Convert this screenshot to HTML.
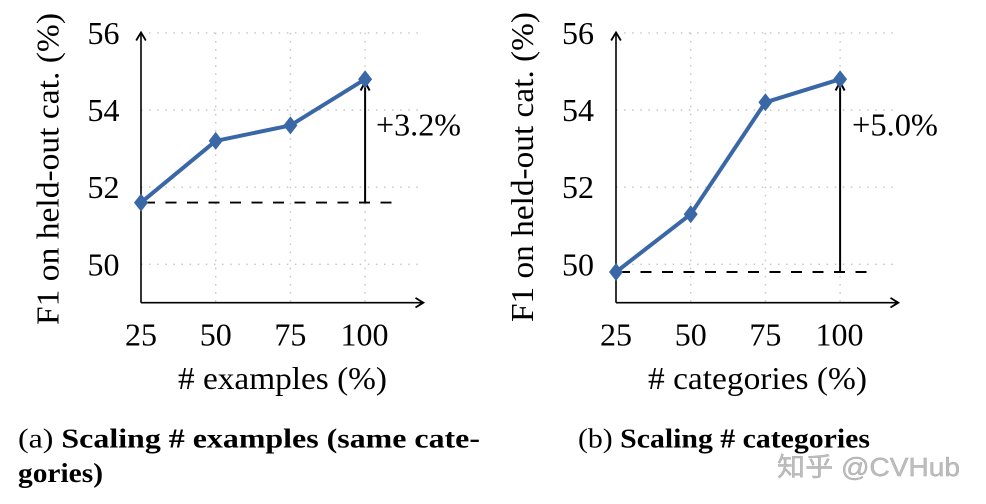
<!DOCTYPE html>
<html><head><meta charset="utf-8"><style>
html,body{margin:0;padding:0;background:#fff;}
svg{display:block;}
.serif{font-family:"Liberation Serif",serif;}
.wm{font-family:"Liberation Sans","Noto Sans CJK SC",sans-serif;}
</style></head><body>
<svg width="986" height="504" viewBox="0 0 986 504" xmlns="http://www.w3.org/2000/svg">
<g class="serif" fill="#000">
<!-- LEFT CHART -->
<g>
  <g stroke="#c4c4c4" stroke-width="1.4" stroke-dasharray="1.5 6.6" fill="none">
    <line x1="141" y1="32.9" x2="421" y2="32.9"/>
    <line x1="141" y1="110" x2="421" y2="110"/>
    <line x1="141" y1="187.2" x2="421" y2="187.2"/>
    <line x1="141" y1="264.3" x2="421" y2="264.3"/>
    <line x1="215.7" y1="32.9" x2="215.7" y2="302.7"/>
    <line x1="290.4" y1="32.9" x2="290.4" y2="302.7"/>
    <line x1="365.1" y1="32.9" x2="365.1" y2="302.7"/>
  </g>
  <g stroke="#000" stroke-width="1.6" fill="none">
    <line x1="141" y1="302.7" x2="141" y2="33.5"/>
    <line x1="141" y1="302.7" x2="422.5" y2="302.7"/>
    <path d="M136.2 40.5 Q138.8 36 141 32.5 Q143.2 36 145.8 40.5" stroke-width="1.8"/>
    <path d="M415.5 297.9 Q419.5 300.4 423.3 302.7 Q419.5 305 415.5 307.5" stroke-width="1.8"/>
    <line x1="141" y1="202.6" x2="395" y2="202.6" stroke-dasharray="11 10.5" stroke-dashoffset="-3" stroke-width="1.9"/>
    <line x1="365.1" y1="202.6" x2="365.1" y2="82" stroke-width="2"/>
    <path d="M360.6 90.5 Q363 86 365.1 82 Q367.2 86 369.6 90.5" stroke-width="2"/>
  </g>
  <polyline points="141,202.6 215.7,140.9 290.4,125.4 365.1,79.2" fill="none" stroke="#3a67a6" stroke-width="4" stroke-linejoin="round"/>
  <g fill="#3a67a6">
    <polygon points="141,193.6 148,202.6 141,211.6 134,202.6"/>
    <polygon points="215.7,131.9 222.7,140.9 215.7,149.9 208.7,140.9"/>
    <polygon points="290.4,116.4 297.4,125.4 290.4,134.4 283.4,125.4"/>
    <polygon points="365.1,70.2 372.1,79.2 365.1,88.2 358.1,79.2"/>
  </g>
  <g font-size="32" text-anchor="end">
    <text x="119.5" y="44">56</text>
    <text x="119.5" y="121">54</text>
    <text x="119.5" y="198">52</text>
    <text x="119.5" y="275.3">50</text>
  </g>
  <g font-size="32" text-anchor="middle">
    <text x="141" y="345.5">25</text>
    <text x="215.7" y="345.5">50</text>
    <text x="290.4" y="345.5">75</text>
    <text x="364.5" y="345.5">100</text>
  </g>
  <text x="282.5" y="389" font-size="32" text-anchor="middle" textLength="209" lengthAdjust="spacingAndGlyphs"># examples (%)</text>
  <text x="376" y="135.5" font-size="32" textLength="85" lengthAdjust="spacingAndGlyphs">+3.2%</text>
  <text transform="translate(58.5,169) rotate(-90)" font-size="32" text-anchor="middle" textLength="312" lengthAdjust="spacingAndGlyphs">F1 on held-out cat. (%)</text>
</g>

<!-- RIGHT CHART -->
<g>
  <g stroke="#c4c4c4" stroke-width="1.4" stroke-dasharray="1.5 6.6" fill="none">
    <line x1="616" y1="32.9" x2="896" y2="32.9"/>
    <line x1="616" y1="110" x2="896" y2="110"/>
    <line x1="616" y1="187.2" x2="896" y2="187.2"/>
    <line x1="616" y1="264.3" x2="896" y2="264.3"/>
    <line x1="690.7" y1="32.9" x2="690.7" y2="302.7"/>
    <line x1="765.4" y1="32.9" x2="765.4" y2="302.7"/>
    <line x1="840.1" y1="32.9" x2="840.1" y2="302.7"/>
  </g>
  <g stroke="#000" stroke-width="1.6" fill="none">
    <line x1="616" y1="302.7" x2="616" y2="33.5"/>
    <line x1="616" y1="302.7" x2="897.5" y2="302.7"/>
    <path d="M611.2 40.5 Q613.8 36 616 32.5 Q618.2 36 620.8 40.5" stroke-width="1.8"/>
    <path d="M890.5 297.9 Q894.5 300.4 898.3 302.7 Q894.5 305 890.5 307.5" stroke-width="1.8"/>
    <line x1="616" y1="272" x2="870" y2="272" stroke-dasharray="11 10.5" stroke-dashoffset="-3" stroke-width="1.9"/>
    <line x1="840.1" y1="272" x2="840.1" y2="82" stroke-width="2"/>
    <path d="M835.6 90.5 Q838 86 840.1 82 Q842.2 86 844.6 90.5" stroke-width="2"/>
  </g>
  <polyline points="616,272 690.7,214.2 765.4,102.3 840.1,79.2" fill="none" stroke="#3a67a6" stroke-width="4" stroke-linejoin="round"/>
  <g fill="#3a67a6">
    <polygon points="616,263 623,272 616,281 609,272"/>
    <polygon points="690.7,205.2 697.7,214.2 690.7,223.2 683.7,214.2"/>
    <polygon points="765.4,93.3 772.4,102.3 765.4,111.3 758.4,102.3"/>
    <polygon points="840.1,70.2 847.1,79.2 840.1,88.2 833.1,79.2"/>
  </g>
  <g font-size="32" text-anchor="end">
    <text x="594" y="44">56</text>
    <text x="594" y="121">54</text>
    <text x="594" y="198">52</text>
    <text x="594" y="275.3">50</text>
  </g>
  <g font-size="32" text-anchor="middle">
    <text x="616" y="345.5">25</text>
    <text x="690.7" y="345.5">50</text>
    <text x="765.4" y="345.5">75</text>
    <text x="839.5" y="345.5">100</text>
  </g>
  <text x="757.5" y="389" font-size="32" text-anchor="middle" textLength="219" lengthAdjust="spacingAndGlyphs"># categories (%)</text>
  <text x="852" y="135.5" font-size="32" textLength="86" lengthAdjust="spacingAndGlyphs">+5.0%</text>
  <text transform="translate(533,167) rotate(-90)" font-size="32" text-anchor="middle" textLength="310" lengthAdjust="spacingAndGlyphs">F1 on held-out cat. (%)</text>
</g>

<!-- CAPTIONS -->
<text x="18" y="447.5" font-size="27" textLength="462" lengthAdjust="spacingAndGlyphs">(a) <tspan font-weight="bold">Scaling # examples (same cate-</tspan></text>
<text x="18" y="482" font-size="27" font-weight="bold" textLength="85" lengthAdjust="spacingAndGlyphs">gories)</text>
<text x="578" y="447.5" font-size="27" textLength="292" lengthAdjust="spacingAndGlyphs">(b) <tspan font-weight="bold">Scaling # categories</tspan></text>
</g>
<text class="wm" x="777" y="476" font-size="26" fill="#bdbdbd" stroke="#a8a8a8" stroke-width="0.4" textLength="183" lengthAdjust="spacingAndGlyphs">知乎 @CVHub</text>
</svg>
</body></html>
